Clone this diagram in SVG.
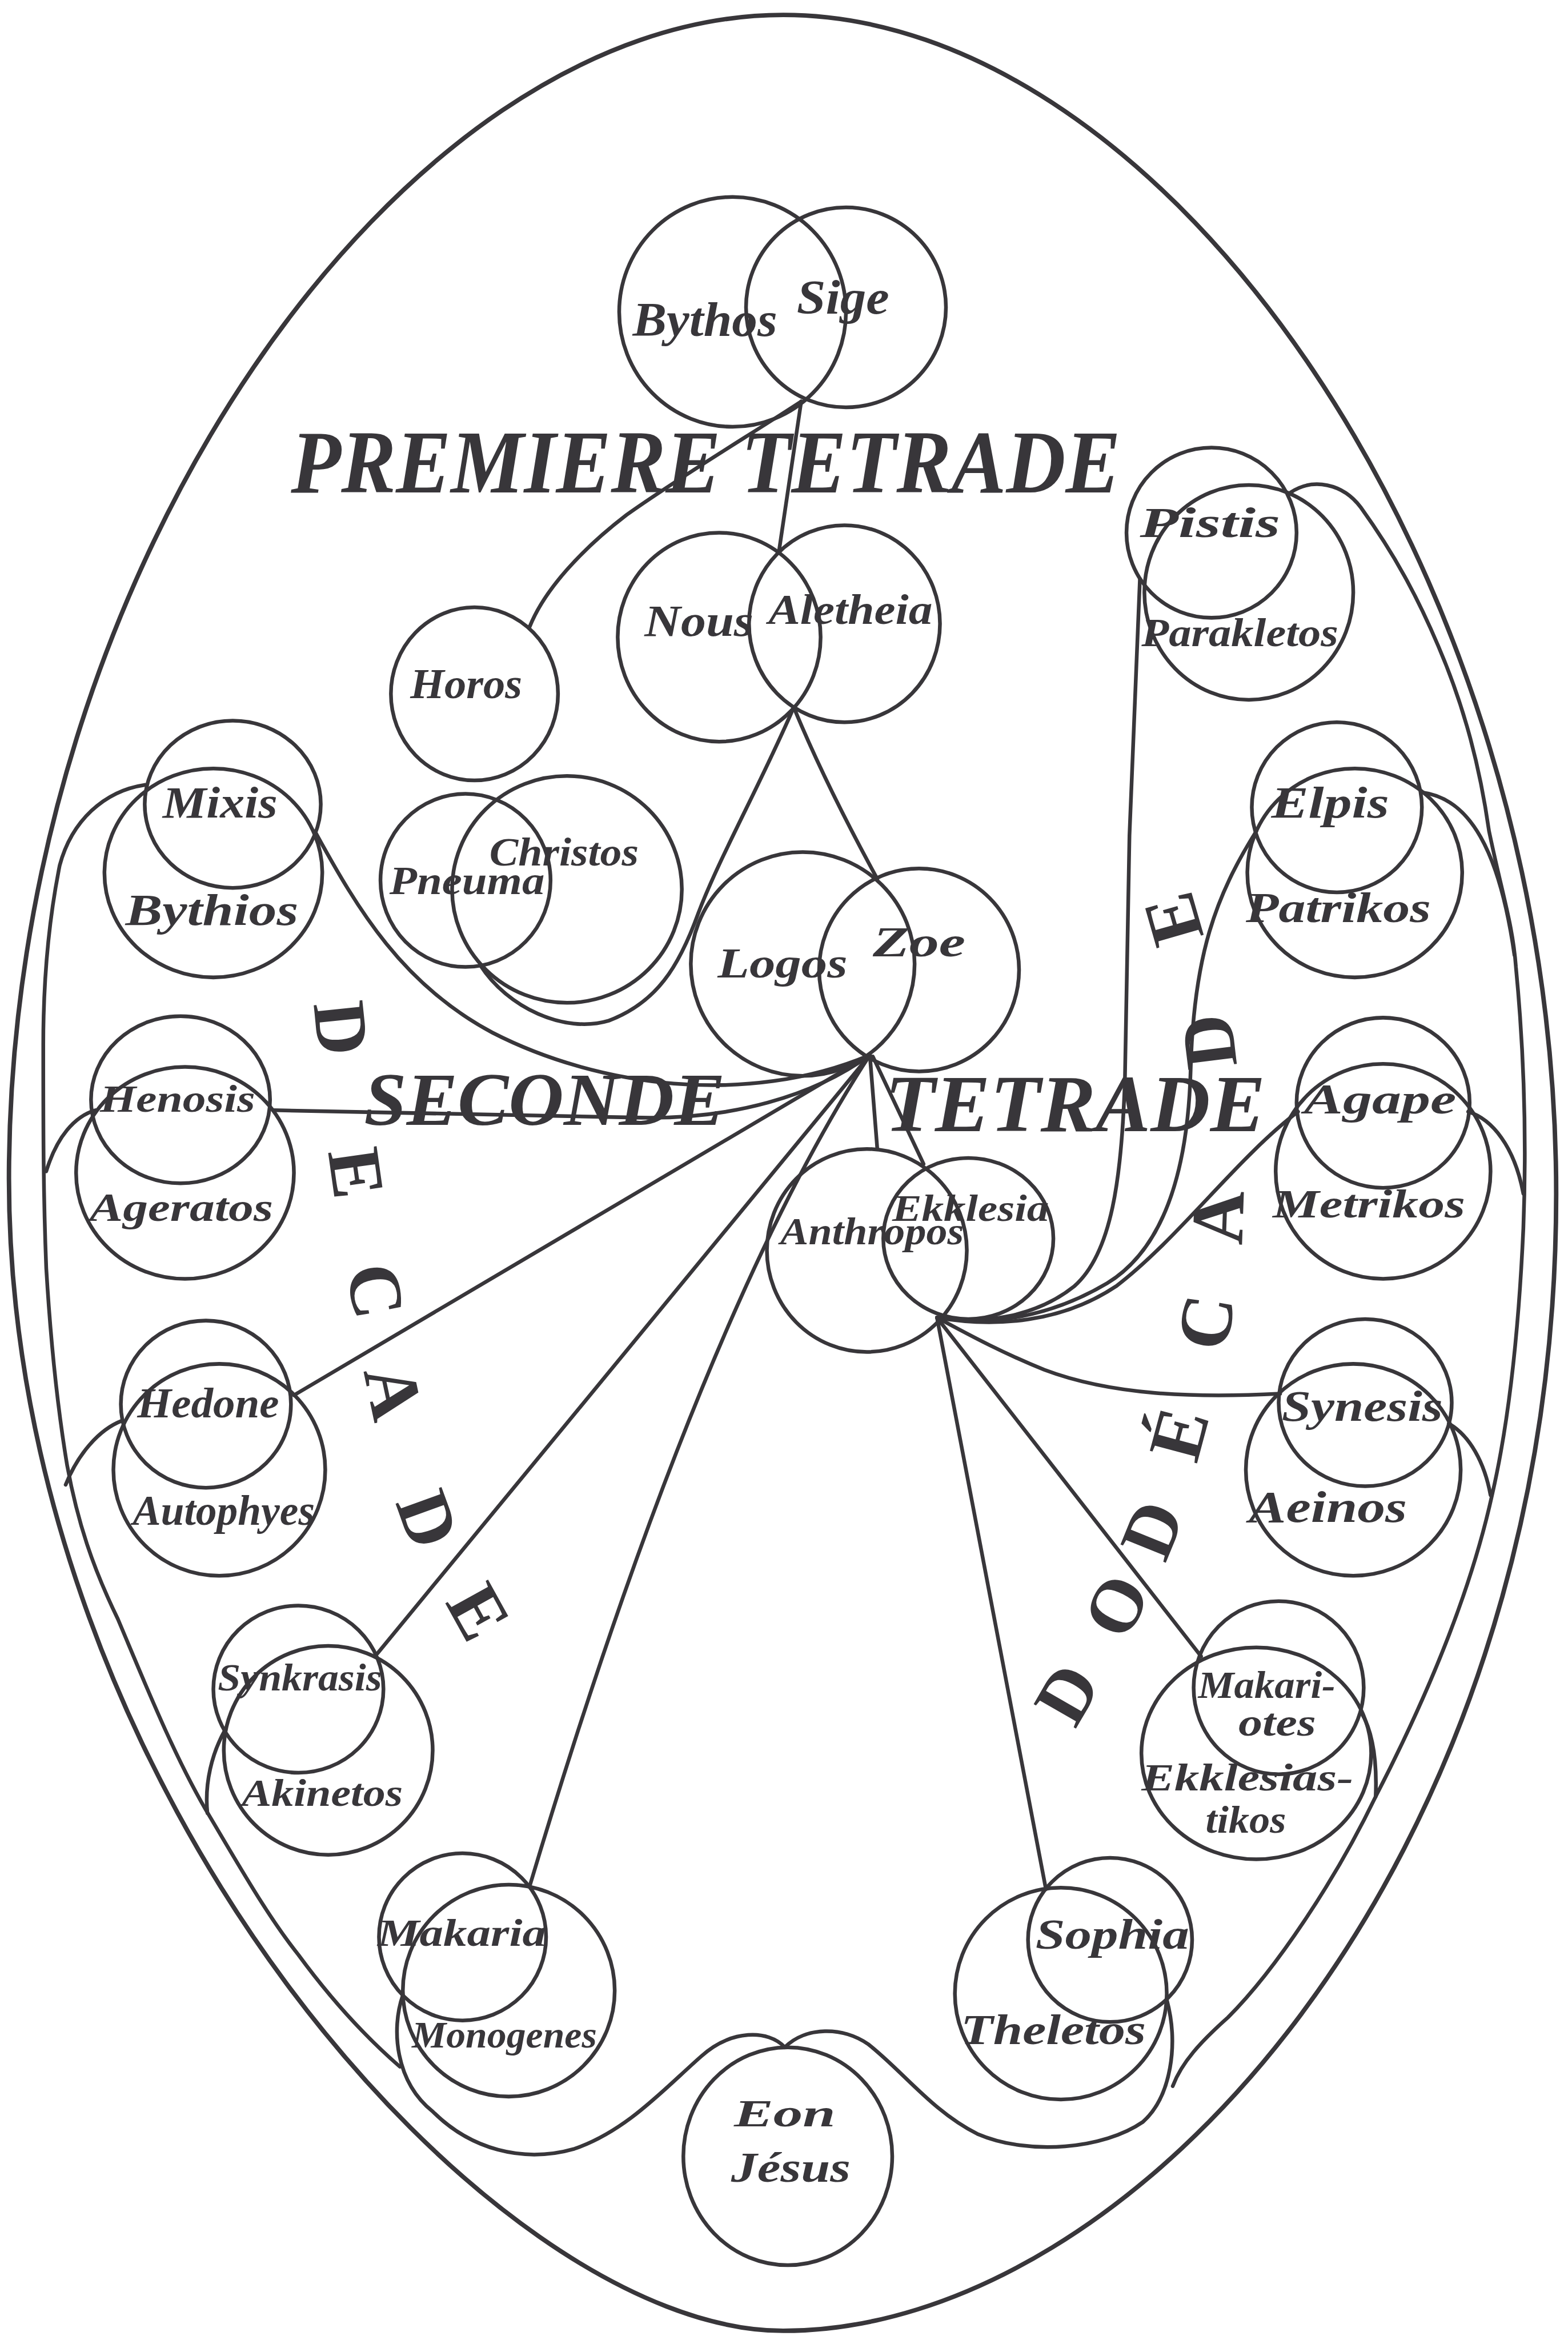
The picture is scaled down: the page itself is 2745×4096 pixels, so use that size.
<svg xmlns="http://www.w3.org/2000/svg" width="2745" height="4096" viewBox="0 0 2745 4096">
<style>
.ln{fill:none;stroke:#38363a;stroke-width:2.5;stroke-linecap:round;stroke-linejoin:round}
.fr{fill:none;stroke:#38363a;stroke-width:3}
.nd ellipse{fill:none;stroke:#38363a;stroke-width:2.5}
.lb{font-family:"Liberation Serif",serif;font-style:italic;font-weight:bold;fill:#38363a}
.tt{font-family:"Liberation Serif",serif;font-style:italic;font-weight:bold;fill:#38363a}
.lt{font-family:"Liberation Serif",serif;font-weight:bold;fill:#38363a;text-anchor:middle;font-size:50px}
</style>
<rect width="2745" height="4096" fill="#ffffff"/>
<g transform="scale(2.612)">
<g id="frame">
<path class="fr" d="M525,10 C780,10 1043,380 1043,800 C1043,1250 760,1562 525,1562 C330,1562 6,1200 6,790 C6,380 270,10 525,10 Z"/>
</g>
<g id="connectors">
<path class="ln" d="M537,269 C505,290 455,320 420,345 C390,368 365,395 355,420"/>
<path class="ln" d="M537,269 L522,370"/>
<path class="ln" d="M532,474 C510,525 482,575 468,612 C455,648 440,672 408,684 C378,693 340,675 322,647"/>
<path class="ln" d="M532,474 Q553,525 588,589"/>
<path class="ln" d="M211,557 C240,610 270,660 330,692 C400,728 500,742 583,707"/>
<path class="ln" d="M183,744 L430,749 C490,750 545,735 583,707"/>
<path class="ln" d="M197,935 L583,707"/>
<path class="ln" d="M253,1108 L583,707"/>
<path class="ln" d="M583,707 Q470,880 355,1264"/>
<path class="ln" d="M583,707 L588,770"/>
<path class="ln" d="M585,708 L619,780"/>
<path class="ln" d="M764,388 L757,560 L754,721 C752,790 745,840 720,862 C695,882 660,888 628,883"/>
<path class="ln" d="M842,557 C815,600 800,640 798,717 C796,790 778,838 742,860 C705,882 665,889 628,883"/>
<path class="ln" d="M870,745 C830,775 790,830 748,862 C712,886 668,890 628,883"/>
<path class="ln" d="M858,934 C800,937 745,935 700,918 C668,905 645,892 628,883"/>
<path class="ln" d="M628,883 L805,1110"/>
<path class="ln" d="M628,883 L701,1266"/>
<path class="ln" d="M97,526 C70,530 48,550 40,580 C32,620 29,660 29,700 C29,760 29,800 31,850 C34,900 38,940 45,982 C52,1020 62,1050 79,1085 C98,1130 118,1180 141,1218 C160,1250 180,1285 200,1310 C222,1340 245,1365 268,1385"/>
<path class="ln" d="M64,744 C50,748 38,762 31,785"/>
<path class="ln" d="M82,952 C66,958 52,975 44,995"/>
<path class="ln" d="M151,1159 C142,1175 137,1195 139,1215"/>
<path class="ln" d="M270,1337 C262,1360 265,1395 290,1415 C315,1440 350,1450 385,1440 C420,1428 445,1400 470,1378 C490,1360 515,1360 526,1372 C540,1358 565,1358 582,1370 C605,1388 625,1415 655,1430 C690,1445 740,1440 766,1422 C785,1405 790,1370 782,1340"/>
<path class="ln" d="M865,330 C880,320 900,324 912,340 C935,372 950,400 964,433 C982,475 992,515 998,557 C1007,600 1014,620 1016,648 C1022,710 1023,770 1021,823 C1018,890 1012,950 1000,1002 C985,1070 955,1140 922,1204 C895,1260 855,1320 823,1352 C805,1368 792,1382 786,1398"/>
<path class="ln" d="M953,531 C985,535 1005,570 1015,640"/>
<path class="ln" d="M984,745 C1000,750 1015,768 1021,800"/>
<path class="ln" d="M971,954 C985,962 995,980 999,1002"/>
<path class="ln" d="M912,1147 C920,1160 923,1180 922,1204"/>
</g>
<g id="titles">
<text class="tt" x="195" y="330" font-size="60" textLength="556" lengthAdjust="spacingAndGlyphs">PREMIERE TETRADE</text>
<text class="tt" x="244" y="754" font-size="50" textLength="242" lengthAdjust="spacingAndGlyphs">SECONDE</text>
<text class="tt" x="593" y="758" font-size="54" textLength="255" lengthAdjust="spacingAndGlyphs">TETRADE</text>
</g>
<g id="decade">
<text class="lt" transform="translate(229,689) rotate(84)" y="17">D</text>
<text class="lt" transform="translate(239,786) rotate(82)" y="17">E</text>
<text class="lt" transform="translate(252,865) rotate(80)" y="17">C</text>
<text class="lt" transform="translate(264,933) rotate(78)" y="17">A</text>
<text class="lt" transform="translate(287,1018) rotate(70)" y="17">D</text>
<text class="lt" transform="translate(321,1080) rotate(61)" y="17">E</text>
</g>
<g id="dodecade">
<text class="lt" transform="translate(715,1135) rotate(-60)" y="17">D</text>
<text class="lt" transform="translate(748,1076) rotate(-63)" y="17">O</text>
<text class="lt" transform="translate(772,1025) rotate(-68)" y="17">D</text>
<text class="lt" transform="translate(790,961) rotate(-75)" y="17">É</text>
<text class="lt" transform="translate(808,886) rotate(-81)" y="17">C</text>
<text class="lt" transform="translate(816,816) rotate(-88)" y="17">A</text>
<text class="lt" transform="translate(810,698) rotate(-97)" y="17">D</text>
<text class="lt" transform="translate(786,616) rotate(-106)" y="17">E</text>
</g>
<g id="bythos" class="nd"><ellipse cx="491" cy="209" rx="76" ry="77"/><text class="lb" x="424" y="225" font-size="32" textLength="97" lengthAdjust="spacingAndGlyphs">Bythos</text></g>
<g id="sige" class="nd"><ellipse cx="567" cy="206" rx="67" ry="67"/><text class="lb" x="534" y="210" font-size="32" textLength="62" lengthAdjust="spacingAndGlyphs">Sige</text></g>
<g id="nous" class="nd"><ellipse cx="482" cy="427" rx="68" ry="70"/><text class="lb" x="432" y="426" font-size="30" textLength="73" lengthAdjust="spacingAndGlyphs">Nous</text></g>
<g id="aletheia" class="nd"><ellipse cx="566" cy="418" rx="64" ry="66"/><text class="lb" x="515" y="418" font-size="28" textLength="110" lengthAdjust="spacingAndGlyphs">Aletheia</text></g>
<g id="horos" class="nd"><ellipse cx="318" cy="465" rx="56" ry="58"/><text class="lb" x="275" y="468" font-size="28" textLength="75" lengthAdjust="spacingAndGlyphs">Horos</text></g>
<g id="pneuma" class="nd"><ellipse cx="312" cy="590" rx="57" ry="58"/><text class="lb" x="261" y="599" font-size="27" textLength="104" lengthAdjust="spacingAndGlyphs">Pneuma</text></g>
<g id="christos" class="nd"><ellipse cx="380" cy="596" rx="77" ry="76"/><text class="lb" x="328" y="580" font-size="27" textLength="100" lengthAdjust="spacingAndGlyphs">Christos</text></g>
<g id="logos" class="nd"><ellipse cx="538" cy="646" rx="75" ry="75"/><text class="lb" x="481" y="655" font-size="28" textLength="87" lengthAdjust="spacingAndGlyphs">Logos</text></g>
<g id="zoe" class="nd"><ellipse cx="616" cy="650" rx="67" ry="68"/><text class="lb" x="585" y="641" font-size="28" textLength="62" lengthAdjust="spacingAndGlyphs">Zoe</text></g>
<g id="anthropos" class="nd"><ellipse cx="581" cy="838" rx="67" ry="68"/><text class="lb" x="523" y="834" font-size="26" textLength="123" lengthAdjust="spacingAndGlyphs">Anthropos</text></g>
<g id="ekklesia" class="nd"><ellipse cx="649" cy="830" rx="57" ry="54"/><text class="lb" x="598" y="818" font-size="25" textLength="105" lengthAdjust="spacingAndGlyphs">Ekklesia</text></g>
<g id="pistis" class="nd"><ellipse cx="812" cy="357" rx="57" ry="57"/><text class="lb" x="764" y="360" font-size="28" textLength="94" lengthAdjust="spacingAndGlyphs">Pistis</text></g>
<g id="parakletos" class="nd"><ellipse cx="837" cy="397" rx="70" ry="72"/><text class="lb" x="765" y="433" font-size="27" textLength="132" lengthAdjust="spacingAndGlyphs">Parakletos</text></g>
<g id="elpis" class="nd"><ellipse cx="896" cy="541" rx="57" ry="57"/><text class="lb" x="852" y="548" font-size="30" textLength="79" lengthAdjust="spacingAndGlyphs">Elpis</text></g>
<g id="patrikos" class="nd"><ellipse cx="908" cy="585" rx="72" ry="70"/><text class="lb" x="835" y="618" font-size="28" textLength="124" lengthAdjust="spacingAndGlyphs">Patrikos</text></g>
<g id="agape" class="nd"><ellipse cx="927" cy="739" rx="58" ry="57"/><text class="lb" x="874" y="746" font-size="28" textLength="102" lengthAdjust="spacingAndGlyphs">Agape</text></g>
<g id="metrikos" class="nd"><ellipse cx="927" cy="785" rx="72" ry="72"/><text class="lb" x="853" y="816" font-size="27" textLength="129" lengthAdjust="spacingAndGlyphs">Metrikos</text></g>
<g id="synesis" class="nd"><ellipse cx="915" cy="940" rx="58" ry="56"/><text class="lb" x="859" y="952" font-size="29" textLength="108" lengthAdjust="spacingAndGlyphs">Synesis</text></g>
<g id="aeinos" class="nd"><ellipse cx="907" cy="985" rx="72" ry="71"/><text class="lb" x="837" y="1020" font-size="30" textLength="106" lengthAdjust="spacingAndGlyphs">Aeinos</text></g>
<g id="makariotes" class="nd"><ellipse cx="857" cy="1131" rx="57" ry="58"/><text class="lb" x="803" y="1138" font-size="26" textLength="92" lengthAdjust="spacingAndGlyphs">Makari-</text><text class="lb" x="830" y="1163" font-size="26" textLength="52" lengthAdjust="spacingAndGlyphs">otes</text></g>
<g id="ekklesiastikos" class="nd"><ellipse cx="842" cy="1175" rx="77" ry="71"/><text class="lb" x="765" y="1200" font-size="26" textLength="142" lengthAdjust="spacingAndGlyphs">Ekklesias-</text><text class="lb" x="808" y="1228" font-size="26" textLength="54" lengthAdjust="spacingAndGlyphs">tikos</text></g>
<g id="sophia" class="nd"><ellipse cx="744" cy="1300" rx="55" ry="55"/><text class="lb" x="694" y="1306" font-size="28" textLength="103" lengthAdjust="spacingAndGlyphs">Sophia</text></g>
<g id="theletos" class="nd"><ellipse cx="711" cy="1336" rx="71" ry="71"/><text class="lb" x="644" y="1370" font-size="28" textLength="124" lengthAdjust="spacingAndGlyphs">Theletos</text></g>
<g id="eon-jesus" class="nd"><ellipse cx="528" cy="1445" rx="70" ry="73"/><text class="lb" x="492" y="1425" font-size="26" textLength="68" lengthAdjust="spacingAndGlyphs">Eon</text><text class="lb" x="490" y="1462" font-size="28" textLength="80" lengthAdjust="spacingAndGlyphs">Jésus</text></g>
<g id="makaria" class="nd"><ellipse cx="310" cy="1298" rx="56" ry="56"/><text class="lb" x="253" y="1304" font-size="26" textLength="113" lengthAdjust="spacingAndGlyphs">Makaria</text></g>
<g id="monogenes" class="nd"><ellipse cx="341" cy="1334" rx="71" ry="71"/><text class="lb" x="276" y="1372" font-size="25" textLength="124" lengthAdjust="spacingAndGlyphs">Monogenes</text></g>
<g id="synkrasis" class="nd"><ellipse cx="200" cy="1132" rx="57" ry="56"/><text class="lb" x="146" y="1133" font-size="26" textLength="110" lengthAdjust="spacingAndGlyphs">Synkrasis</text></g>
<g id="akinetos" class="nd"><ellipse cx="220" cy="1173" rx="70" ry="70"/><text class="lb" x="162" y="1210" font-size="26" textLength="108" lengthAdjust="spacingAndGlyphs">Akinetos</text></g>
<g id="hedone" class="nd"><ellipse cx="138" cy="941" rx="57" ry="56"/><text class="lb" x="92" y="950" font-size="28" textLength="95" lengthAdjust="spacingAndGlyphs">Hedone</text></g>
<g id="autophyes" class="nd"><ellipse cx="147" cy="985" rx="71" ry="71"/><text class="lb" x="89" y="1022" font-size="28" textLength="122" lengthAdjust="spacingAndGlyphs">Autophyes</text></g>
<g id="henosis" class="nd"><ellipse cx="121" cy="737" rx="60" ry="56"/><text class="lb" x="67" y="745" font-size="26" textLength="104" lengthAdjust="spacingAndGlyphs">Henosis</text></g>
<g id="ageratos" class="nd"><ellipse cx="124" cy="786" rx="73" ry="71"/><text class="lb" x="60" y="818" font-size="27" textLength="123" lengthAdjust="spacingAndGlyphs">Ageratos</text></g>
<g id="mixis" class="nd"><ellipse cx="156" cy="539" rx="59" ry="56"/><text class="lb" x="109" y="548" font-size="30" textLength="77" lengthAdjust="spacingAndGlyphs">Mixis</text></g>
<g id="bythios" class="nd"><ellipse cx="143" cy="585" rx="73" ry="70"/><text class="lb" x="84" y="620" font-size="30" textLength="116" lengthAdjust="spacingAndGlyphs">Bythios</text></g>
</g>
</svg>
